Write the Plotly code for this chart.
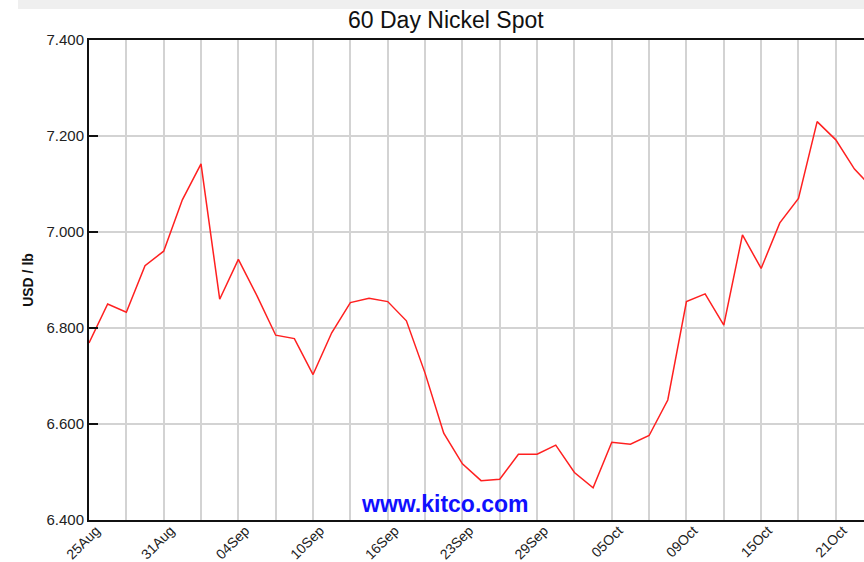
import plotly.graph_objects as go

# --- data -------------------------------------------------------------
price = [6.769, 6.850, 6.833, 6.930, 6.960, 7.067, 7.142, 6.860, 6.943, 6.867,
         6.785, 6.778, 6.703, 6.790, 6.853, 6.862, 6.855, 6.815, 6.706, 6.581,
         6.517, 6.482, 6.485, 6.537, 6.537, 6.556, 6.499, 6.467, 6.562, 6.558,
         6.576, 6.650, 6.855, 6.871, 6.806, 6.994, 6.924, 7.019, 7.070, 7.230,
         7.192, 7.131, 7.090]
day_index = list(range(len(price)))

tick_labels = ["25Aug", "31Aug", "04Sep", "10Sep", "16Sep", "23Sep",
               "29Sep", "05Oct", "09Oct", "15Oct", "21Oct"]
label_every = 4
grid_every = 2
y_ticks = [6.4, 6.6, 6.8, 7.0, 7.2, 7.4]

# build x tick positions (grid every 2 days, label every 4)
n_grid = (len(tick_labels) - 1) * label_every // grid_every + 1
tickvals = [k * grid_every for k in range(n_grid)]
ticktext = [tick_labels[v // label_every] if v % label_every == 0 else ""
            for v in tickvals]

fig = go.Figure()
fig.add_trace(go.Scatter(
    x=day_index, y=price, mode="lines",
    line=dict(color="#ff2020", width=1.5),
    hoverinfo="skip", showlegend=False,
))

fig.update_layout(
    width=864, height=562,
    margin=dict(l=89, r=0, t=40, b=42, autoexpand=False),
    paper_bgcolor="white", plot_bgcolor="white",
    font=dict(family="Liberation Sans, Arial, sans-serif", color="#111"),
    title=dict(text="60 Day Nickel Spot", x=0.516, xanchor="center",
               yref="container", y=1 - 20 / 562, yanchor="middle",
               font=dict(size=23, color="#111")),
    xaxis=dict(
        range=[0, 41.51], tickmode="array", tickvals=tickvals, ticktext=ticktext,
        tickangle=-45, tickfont=dict(size=14, color="#222"),
        ticklabelshift=7, ticklabelstandoff=-5,
        showgrid=True, gridcolor="#d3d3d3", gridwidth=1.5,
        showline=True, linecolor="#111", linewidth=2, mirror=True,
        ticks="", zeroline=False, fixedrange=True, automargin=False,
    ),
    yaxis=dict(
        range=[6.4, 7.4], tickmode="array", tickvals=y_ticks,
        tickformat=".3f", tickfont=dict(size=15, color="#222"),
        ticks="inside", ticklen=9, tickwidth=1.5, tickcolor="#111",
        showgrid=True, gridcolor="#d3d3d3", gridwidth=1.5,
        showline=True, linecolor="#111", linewidth=2,
        zeroline=False, fixedrange=True, automargin=False,
        title=dict(text="<b>USD / lb</b>", font=dict(size=14, color="#111"),
                   standoff=10),
    ),
    shapes=[dict(type="rect", xref="paper", yref="paper",
                 x0=-71 / 775, x1=1.0, y0=1 + 31 / 480, y1=1 + 40 / 480,
                 fillcolor="#efefef", line=dict(width=0), layer="below")],
    annotations=[dict(text="<b>www.kitco.com</b>", xref="paper", yref="paper",
                      x=(445 - 89) / 775, y=(520 - 504) / 480,
                      xanchor="center", yanchor="middle", showarrow=False,
                      font=dict(size=23, color="#1010ff"))],
)

fig.write_html("out.html",
               config={"displayModeBar": False},
               post_script="document.body.style.margin='0';"
                           "document.body.style.overflow='hidden';")
